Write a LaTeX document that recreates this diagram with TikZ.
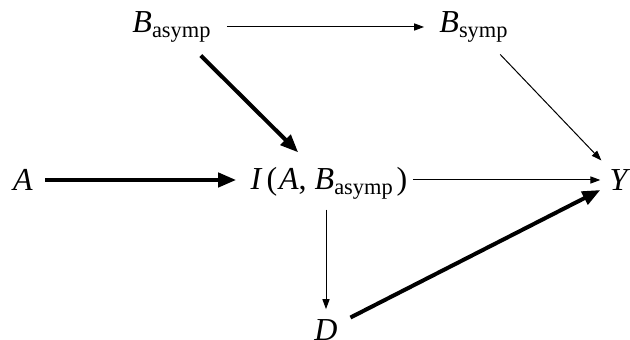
\documentclass[tikz,border=0pt]{standalone}
\usepackage{amsmath}
\usepackage{fontspec}
\setmainfont{Liberation Serif}
\usetikzlibrary{arrows.meta}

\begin{document}
\begin{tikzpicture}[x=0.5pt, y=-0.5pt,
    every node/.style={font=\fontsize{16}{19}\selectfont, inner sep=0pt},
    thin edge/.style={-{Triangle[length=5pt,width=3.6pt]}, line width=0.5pt},
    thick edge/.style={-{Triangle[length=9pt,width=7pt]}, line width=2pt}]
    \useasboundingbox (0,0) rectangle (630,340);

    % nodes
    \node (basymp) at (172,27) {\textit{B}$_\text{asymp}$};
    \node (bsymp) at (474,27) {\textit{B}$_\text{symp}$};
    \node (a) at (23,180) {\textit{A}};
    \node (iab) at (329,183) {\textit{I}\kern2pt(\kern1pt\textit{A},\kern4pt\textit{B}$_\text{asymp}$\kern1.5pt)};
    \node (y) at (620,180) {\textit{Y}};
    \node (d) at (326,330) {\textit{D}};

    % edges
    \draw[thin edge, shorten <=7.5pt, shorten >=7.5pt] (basymp.east) -- (bsymp.west);
    \draw[thick edge, shorten <=9pt, shorten >=10pt] (basymp) -- (iab);
    \draw[thin edge, shorten <=8pt, shorten >=6pt] (bsymp) -- (y);
    \draw[thick edge, shorten <=6pt, shorten >=7pt] (a.east) -- (a.east -| iab.west);
    \draw[thin edge, shorten <=2.5pt, shorten >=4.5pt] (iab.east |- y.west) -- (y.west);
    \draw[thin edge, shorten <=5pt, shorten >=5pt] (iab.south -| d.north) -- (d.north);
    \draw[thick edge, shorten <=7pt, shorten >=5pt] (d) -- (y);
\end{tikzpicture}
\end{document}
